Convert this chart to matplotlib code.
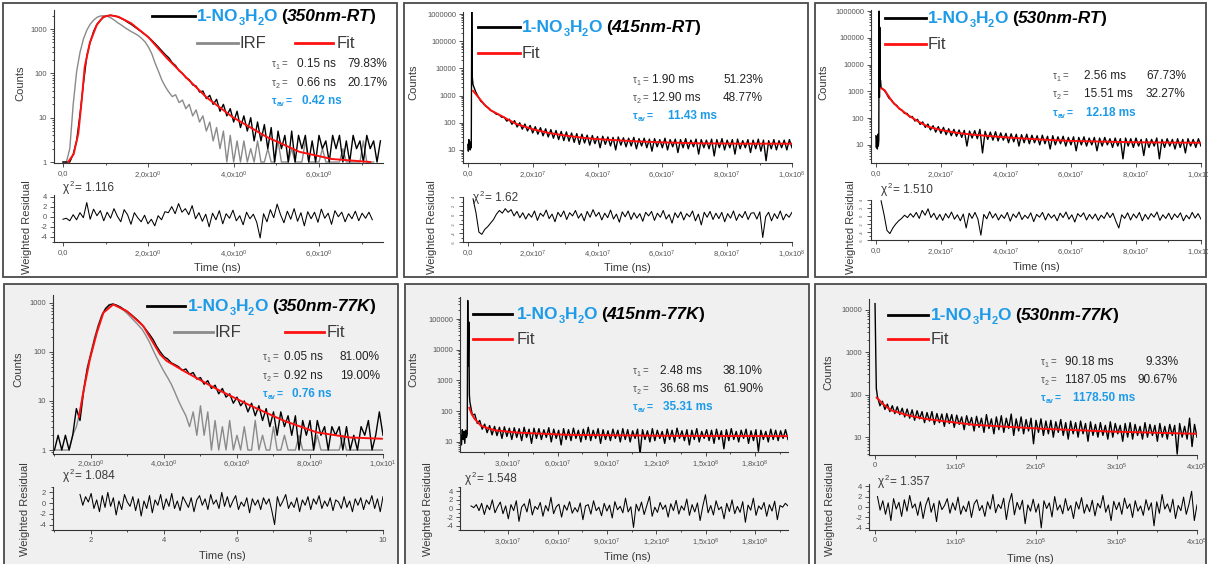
import numpy as np
import matplotlib.pyplot as plt
from matplotlib.lines import Line2D
from matplotlib.patches import Rectangle
from matplotlib.ticker import LogLocator, MultipleLocator, NullFormatter

plt.rcParams['font.family'] = ['Liberation Sans', 'DejaVu Sans']
plt.rcParams['mathtext.fontset'] = 'custom'
plt.rcParams['mathtext.rm'] = 'Liberation Sans'
plt.rcParams['mathtext.it'] = 'Liberation Sans:italic'
plt.rcParams['mathtext.bf'] = 'Liberation Sans:bold'

# ---------------- data ----------------
# panel 1: 350nm-RT (time in ns)
p1_t_range = (0.0, 7.44)
p1_counts = [1, 1, 1, 1.5, 3, 12, 60, 250, 520, 900,
             1300, 1600, 1880, 2000, 2050, 2000, 1900, 1750, 1600, 1420,
             1280, 1120, 990, 870, 760, 660, 560, 470, 390, 320,
             265, 225, 175, 150, 115, 100, 80, 72, 55, 52,
             38, 40, 27, 32, 20, 26, 14, 20, 11, 16,
             8, 14, 6, 11, 5, 10, 3, 8, 3, 7,
             2, 6, 1, 5, 2, 4, 1, 5, 1, 4,
             2, 4, 1, 3, 1, 4, 2, 3, 1, 4,
             2, 4, 1, 3, 1, 4, 2, 3, 1, 4,
             2, 3, 1, 3]
p1_irf_range = (0.0, 7.28)
p1_irf = [1, 1, 2, 20, 110, 300, 600, 950, 1300, 1600,
          1850, 1980, 2000, 1950, 1800, 1600, 1400, 1250, 1100, 980,
          880, 800, 720, 620, 520, 400, 280, 170, 110, 70,
          50, 38, 30, 33, 22, 25, 16, 20, 11, 15,
          8, 11, 5, 8, 3, 6, 2, 5, 1, 4,
          1, 3, 1, 3, 1, 2, 1, 3, 1, 1,
          2, 1, 1, 3, 1, 1, 1, 2, 1, 1,
          1, 3, 1, 1, 1, 1, 2, 1, 1, 1,
          1, 1, 2, 1, 1, 1, 1, 1, 3, 1,
          1, 1]
p1_fit_t = [0.12, 0.25, 0.36, 0.44, 0.51, 0.63, 0.79, 0.94, 1.10, 1.30,
            1.60, 2.00, 2.43, 2.90, 3.36, 3.97, 4.77, 5.54, 6.30, 7.20]
p1_fit = [1.0, 1.5, 4.4, 25, 141, 490, 1230, 1880, 2050, 1900,
          1350, 660, 224, 79, 29, 10.4, 3.7, 1.7, 1.17, 1.0]
p1_res_range = (0.0, 7.25)
p1_res = [-0.5, -0.3, -0.8, 0.4, -0.6, 0.8, -0.2, 2.8, -0.5, 1.5,
          0.2, 1.2, -0.8, 0.9, -0.3, 1.6, 0.1, -1.0, 1.4, 0.4,
          -1.5, 0.8, -0.2, -1.0, 0.3, -1.4, -0.5, -1.8, 0.2, -0.6,
          1.0, 0.8, 2.0, 0.6, 2.6, 0.9, 1.6, 0.4, 2.2, -0.4,
          0.8, -0.9, 0.5, -2.0, 0.7, -0.6, 1.2, -1.4, 0.6, -0.3,
          1.3, -0.8, 0.2, -1.6, 0.9, -0.4, 0.5, -1.1, -4.2, 0.6,
          -1.0, 1.4, -0.2, 2.5, 0.4, -1.2, 1.1, -0.5, 1.6, -0.9,
          0.8, -1.8, 1.0, -0.4, 0.9, -1.1, 1.5, -0.3, 0.7, -1.5,
          1.2, 0.0, 0.9, -1.0, 0.6, -0.4, 1.1, -0.8, 0.7, -0.3,
          0.9, -0.6]

# panel 2: 415nm-RT
p2_head_t = [0, 1.5e5, 3e5, 4.5e5, 6e5, 7.5e5, 9e5, 1.05e6, 1.2e6, 1.35e6]
p2_head = [16, 9, 24, 11, 20, 10, 18, 12, 1.2e6, 5000]
p2_t_range = (1.6e6, 1.0e8)
p2_counts = [2500, 1400, 900, 620, 520, 400, 350, 280, 250, 205,
             200, 160, 160, 115, 135, 88, 120, 70, 100, 58,
             90, 50, 80, 42, 72, 38, 66, 33, 60, 30,
             56, 27, 52, 24, 48, 22, 46, 21, 42, 19,
             40, 16, 38, 18, 35, 15, 34, 17, 31, 12,
             32, 16, 30, 14, 29, 10, 30, 15, 28, 13,
             27, 14, 29, 11, 26, 14, 27, 12, 25, 9,
             26, 13, 24, 12, 27, 10, 24, 13, 25, 8,
             24, 12, 26, 11, 23, 13, 25, 7, 24, 12,
             23, 11, 25, 6, 24, 12, 26, 10, 23, 12,
             24, 7, 25, 11, 22, 12, 24, 8, 23, 11,
             25, 9, 23, 4, 22, 11, 24, 10, 22, 12,
             23, 10, 24, 12]
p2_fit_t = [1.6e6, 2.7e6, 5e6, 7e6, 9.8e6, 1.3e7, 1.5e7, 2.0e7, 2.5e7,
            3.0e7, 3.55e7, 4.0e7, 5.1e7, 6.0e7, 7.1e7, 8.5e7, 1.0e8]
p2_fit = [1500, 1050, 480, 290, 194, 120, 90, 58, 42,
          34, 28, 25, 21, 19, 17.5, 17, 17]
p2_res_range = (1.6e6, 1.0e8)
p2_res = [3.6, 0.5, -3.8, -4.3, -3.2, -2.6, -1.8, -1.0, 0.2, 1.0,
          0.4, 1.4, 0.6, 1.2, -0.2, 0.8, -0.6, 0.5, -0.9, 0.3,
          -0.5, 0.9, -1.2, 0.4, -0.3, 1.1, -0.8, 0.2, -1.5, 0.6,
          -0.4, 0.9, -1.0, 0.5, -0.2, 1.0, -0.7, 0.3, -1.3, 0.8,
          -0.5, 1.2, -0.3, 0.6, -1.1, 0.4, -0.6, 1.1, -0.9, 0.2,
          -1.6, 0.7, -0.4, 0.9, -1.0, 0.5, -0.7, 0.3, -1.4, 0.6,
          -0.2, 0.8, -1.2, 0.4, -0.5, 1.0, -0.9, 0.1, -1.8, 0.5,
          -0.6, 0.7, -1.1, 0.3, -0.4, 0.9, -1.3, 0.2, -2.2, 0.6,
          -0.5, 0.8, -1.0, 0.4, -0.8, 0.6, -1.5, 0.3, -0.7, 0.9,
          -1.2, 0.2, -0.6, 0.8, -1.0, 0.4, 0.5, -0.9, 0.7, -5.0,
          -0.4, 0.6, -1.3, 0.3, -0.8, 0.9, -1.1, 0.2, -0.5, 0.6]

# panel 3: 530nm-RT
p3_head_t = [0, 1.5e5, 3e5, 4.5e5, 6e5, 7.5e5, 9e5, 1.0e6, 1.1e6, 1.2e6, 1.3e6, 1.45e6]
p3_head = [22, 8, 20, 7, 25, 9, 15, 1.0e6, 600, 2.5e5, 3000, 2500]
p3_t_range = (1.6e6, 1.0e8)
p3_counts = [1400, 1150, 850, 560, 480, 340, 300, 220, 200, 150,
             150, 110, 115, 78, 90, 58, 72, 45, 60, 36,
             52, 30, 48, 27, 45, 24, 40, 22, 38, 21,
             36, 19, 35, 9, 33, 18, 34, 17, 38, 5,
             32, 16, 30, 15, 31, 14, 28, 15, 27, 12,
             26, 13, 25, 9, 24, 12, 25, 11, 23, 12,
             22, 10, 23, 11, 21, 7, 22, 10, 20, 11,
             21, 9, 19, 10, 20, 6, 19, 10, 20, 9,
             18, 10, 19, 6, 18, 9, 19, 10, 17, 8,
             18, 9, 17, 3, 18, 9, 17, 8, 18, 9,
             16, 4, 17, 8, 16, 9, 18, 3, 16, 8,
             17, 9, 16, 7, 17, 8, 16, 5, 17, 9,
             16, 8, 17, 9]
p3_fit_t = [1.6e6, 2.7e6, 5e6, 7e6, 9.8e6, 1.3e7, 1.6e7, 2.0e7, 2.5e7,
            3.0e7, 4.0e7, 5.0e7, 6.0e7, 8.0e7, 1.0e8]
p3_fit = [1300, 1100, 420, 240, 131, 75, 48, 36, 28,
          24, 19, 16, 14, 12.5, 12]
p3_res_range = (1.6e6, 1.0e8)
p3_res = [3.8, 0.4, -3.6, -4.4, -3.0, -2.0, -1.2, -0.6, 0.2, -0.4,
          0.6, -0.3, 0.9, -0.6, 1.4, 0.2, 1.8, -0.4, 0.7, -0.9,
          0.4, -1.1, 0.6, -0.5, 1.0, -0.8, 0.3, -1.2, 0.5, -3.0,
          0.7, -0.6, 0.9, -0.8, -4.8, 0.4, -0.7, 1.1, -0.5, 0.6,
          -1.0, 0.3, -0.6, 0.9, -1.3, 0.5, -0.4, 1.0, -0.9, 0.2,
          -0.6, 0.8, -1.4, 0.4, -0.3, 0.9, -1.0, 0.6, -0.5, 0.3,
          -1.2, 0.7, -0.4, 1.0, -0.8, 0.3, -1.5, 0.6, -0.2, 0.8,
          -1.0, 0.4, -0.7, 0.5, -1.1, 0.2, -0.6, 0.9, -0.4, 0.7,
          -1.3, -3.0, 0.3, -0.6, 0.8, -1.0, 0.5, -0.5, 0.9, -1.2,
          0.4, -0.8, 0.6, -0.3, 1.0, -1.1, 0.3, -0.6, 0.7, -0.9,
          0.5, -0.4, 0.8, -1.2, 0.2, -0.7, 0.9, -0.5, 0.6, -0.8]

# panel 4: 350nm-77K (time in ns)
p4_t_range = (1.0, 10.0)
p4_counts = [1, 2, 1, 2, 1, 2, 7, 4, 16, 45,
             90, 180, 330, 550, 760, 900, 950, 900, 830, 740,
             660, 580, 500, 430, 360, 290, 230, 180, 130, 100,
             80, 72, 60, 55, 50, 42, 45, 35, 38, 28,
             30, 22, 26, 18, 21, 14, 18, 12, 14, 9,
             12, 8, 10, 6, 9, 5, 8, 4, 7, 3,
             6, 2, 6, 3, 5, 2, 5, 1, 4, 2,
             4, 1, 4, 2, 3, 1, 3, 2, 3, 1,
             3, 1, 2, 1, 3, 2, 4, 1, 2, 6,
             2]
p4_irf_range = (1.0, 10.0)
p4_irf = [1, 1, 1, 1, 1, 2, 3, 6, 18, 50,
          100, 200, 360, 580, 780, 930, 940, 880, 790, 700,
          600, 500, 420, 350, 290, 220, 160, 110, 77, 55,
          40, 30, 22, 15, 10, 7, 5, 3, 6, 2,
          8, 2, 6, 1, 4, 1, 3, 1, 4, 1,
          2, 1, 3, 1, 1, 4, 1, 2, 1, 1,
          3, 1, 1, 2, 1, 1, 1, 2, 1, 1,
          1, 1, 2, 1, 1, 1, 1, 1, 1, 2,
          1, 1, 1, 1, 1, 1, 1, 1, 1, 1,
          1]
p4_fit_t = [1.67, 1.79, 1.97, 2.16, 2.34, 2.61, 2.98, 3.43, 3.89, 4.07,
            4.62, 5.44, 6.36, 7.27, 8.18, 9.1, 9.97]
p4_fit = [4.7, 15, 71, 245, 630, 930, 680, 340, 90, 66,
          38, 17.6, 8.1, 4.0, 2.3, 1.8, 1.7]
p4_res_range = (1.7, 10.0)
p4_res = [1.6, -0.4, 1.2, 0.2, 1.8, -1.0, 0.6, -1.6, 1.4, -0.8,
          2.0, -0.6, 1.0, -2.2, 0.4, -1.2, 1.6, 0.2, -0.6, 1.2,
          -1.4, 0.8, -2.4, 0.4, -1.0, 1.4, -1.8, 0.6, -0.4, 1.6,
          -1.2, 0.8, -0.6, 1.8, -1.0, 0.4, -1.4, 1.2, 0.2, -0.8,
          1.0, -1.6, 0.6, 1.4, -0.4, 0.8, -1.2, 1.6, -0.2, 0.6,
          -1.0, 2.0, -0.6, 1.2, -0.8, 0.4, 1.4, -1.2, 0.2, -0.6,
          1.0, -1.8, 0.8, -0.4, 0.6, -1.2, 1.0, -0.2, 0.8, -1.4,
          -4.0, 1.2, -0.6, 0.4, 1.6, -1.0, 0.2, -0.8, 1.0, -1.6,
          0.6, -0.4, 1.2, -1.2, 0.8, -0.2, 1.4, -1.0, 0.4, -0.6,
          1.0, -1.4, 0.6, 0.2, -1.0, 1.2, -0.8, 0.4, -1.6, 0.8,
          -0.4, 1.0, -1.2, 0.6, -0.2, 1.4, -1.0, 0.8, -1.6, 1.2]

# panel 5: 415nm-77K
p5_head_t = [8e5, 1.5e6, 2.0e6, 2.5e6, 3.0e6, 3.5e6, 4.0e6, 4.5e6, 5.0e6, 5.3e6, 5.6e6, 6.0e6, 6.3e6]
p5_head = [20, 8, 25, 12, 22, 9, 24, 14, 18, 4e5, 3000, 8e4, 340]
p5_t_range = (6.6e6, 2.0e8)
p5_counts = [200, 75, 80, 40, 50, 26, 38, 20, 34, 17,
             32, 16, 30, 13, 31, 15, 28, 12, 29, 14,
             27, 11, 30, 14, 26, 9, 28, 13, 27, 12,
             25, 14, 29, 10, 26, 13, 24, 8, 27, 12,
             25, 11, 28, 13, 24, 10, 26, 12, 30, 11,
             24, 13, 27, 9, 25, 12, 23, 11, 26, 13,
             24, 10, 27, 12, 25, 10, 23, 13, 26, 4,
             25, 12, 23, 10, 27, 11, 24, 13, 22, 9,
             26, 12, 24, 10, 28, 13, 23, 11, 25, 8,
             24, 12, 27, 10, 22, 13, 25, 11, 24, 9,
             26, 12, 23, 6, 25, 11, 27, 12, 22, 10,
             24, 13, 26, 9, 23, 11, 25, 5, 24, 12,
             22, 10, 26, 12, 24, 11, 23, 13, 25, 12]
p5_fit_t = [6.3e6, 7.5e6, 9.4e6, 1.35e7, 2.16e7, 3.6e7, 6.66e7, 1.28e8, 2.0e8]
p5_fit = [129, 85, 57, 33, 24, 20, 17, 15.8, 15.4]
p5_res_range = (7.3e6, 2.0e8)
p5_res = [0.6, 0.2, 0.9, -0.5, 1.2, -1.4, 0.8, -0.3, 2.0, -1.0,
          0.4, 1.5, -1.2, 0.6, -2.4, 0.9, -0.5, 1.8, -3.0, 0.3,
          1.1, -0.8, 2.2, -1.5, 0.5, -0.2, 1.4, -1.8, 0.7, -0.6,
          2.6, -1.2, 0.4, 1.0, -2.0, 0.8, -0.4, 1.6, -1.1, 0.2,
          -0.8, 1.3, -2.6, 0.6, 0.9, -1.3, 1.8, -0.5, 0.3, -1.7,
          1.2, -0.6, 0.8, -2.2, 1.6, -0.3, 0.5, -1.0, 2.4, -0.8,
          0.4, -4.4, 1.0, -0.6, 1.5, -1.4, 0.7, 2.8, -1.8, 0.3,
          -0.9, 1.4, -0.2, 0.8, -2.0, 1.1, -0.5, 1.9, -1.3, 0.6,
          -0.4, 2.2, -1.6, 0.9, -0.8, 1.3, -2.8, 0.5, 3.2, -1.0,
          0.7, -1.5, 1.8, -0.3, 0.4, -2.4, 1.2, -0.7, 2.0, -1.2,
          0.5, -0.9, 1.6, -3.2, 0.8, -0.4, 2.4, -1.6, 0.6, -0.2,
          1.4, -1.8, 0.9, -0.6, 1.7, -2.6, 0.7, 0.3, 1.2, 0.6]

# panel 6: 530nm-77K
p6_head_t = [0, 500, 1000, 1600, 2300]
p6_head = [14000, 2500, 700, 140, 110]
p6_t_range = (3000, 4.0e5)
p6_counts = [90, 55, 70, 45, 60, 40, 55, 36, 52, 34,
             48, 30, 46, 28, 44, 25, 42, 27, 40, 22,
             38, 24, 40, 20, 36, 22, 35, 18, 36, 21,
             34, 17, 33, 20, 30, 15, 32, 19, 29, 14,
             31, 17, 28, 13, 34, 16, 27, 12, 30, 15,
             32, 13, 28, 16, 35, 11, 27, 14, 30, 12,
             26, 14, 28, 7, 25, 13, 27, 11, 24, 12,
             25, 10, 23, 13, 26, 11, 22, 9, 24, 12,
             22, 10, 24, 12, 21, 8, 23, 11, 20, 10,
             22, 11, 19, 9, 23, 10, 21, 12, 19, 8,
             21, 10, 22, 9, 20, 11, 18, 9, 22, 10,
             20, 11, 19, 8, 21, 10, 18, 9, 20, 11,
             19, 4, 21, 10, 18, 9, 28, 6, 20, 10]
p6_fit_t = [2000, 3700, 1.0e4, 2.0e4, 4.0e4, 6.2e4, 1.24e5, 2.07e5, 2.9e5, 4.0e5]
p6_fit = [85, 80, 60, 43, 33, 27, 19.5, 15.8, 13.6, 12]
p6_res_range = (3000, 4.0e5)
p6_res = [2.0, -0.6, 1.2, -1.4, 0.8, -2.6, 1.6, -0.4, 0.9, -1.8,
          1.4, -0.8, 2.2, -0.2, 0.6, -1.6, 1.0, -2.2, 0.4, 1.8,
          -1.0, 0.7, -2.8, 1.2, -0.5, 0.3, 1.6, -1.2, 0.8, -0.6,
          1.9, -1.4, 0.2, -0.9, 1.1, -2.0, 0.6, 1.4, -0.7, 0.3,
          -1.8, 1.0, -0.4, 2.4, -1.1, 0.5, -0.3, 1.7, -2.4, 0.8,
          2.6, -1.5, 0.9, -0.5, 1.3, -3.2, 0.4, -0.8, 1.5, -1.0,
          0.6, -4.0, 1.2, -0.3, 0.8, -1.9, 2.0, -0.6, 0.4, -1.3,
          1.6, -0.7, 0.3, -2.2, 1.0, -0.4, 1.8, -1.2, 0.5, -0.9,
          1.3, -1.7, 0.7, -0.2, 2.2, -1.0, 0.4, -2.6, 1.1, -0.5,
          0.9, -1.4, 1.7, -0.3, 0.6, -2.0, 1.2, -0.8, 0.2, -1.6,
          1.4, -0.6, 0.8, -3.6, 1.0, -1.2, 2.4, -0.4, 0.6, -1.0,
          1.5, -2.2, 0.3, -0.7, 1.9, -1.4, 0.5, 3.0, -2.6, 0.4]

# text content
labels = ['350nm-RT', '415nm-RT', '530nm-RT', '350nm-77K', '415nm-77K', '530nm-77K']
tau_vals = [('0.15 ns', '0.66 ns', '0.42 ns'), ('1.90 ms', '12.90 ms', '11.43 ms'),
            ('2.56 ms', '15.51 ms', '12.18 ms'), ('0.05 ns', '0.92 ns', '0.76 ns'),
            ('2.48 ms', '36.68 ms', '35.31 ms'), ('90.18 ms', '1187.05 ms', '1178.50 ms')]
tau_pcts = [('79.83%', '20.17%'), ('51.23%', '48.77%'), ('67.73%', '32.27%'),
            ('81.00%', '19.00%'), ('38.10%', '61.90%'), ('9.33%', '90.67%')]
chi2 = ['1.116', '1.62', '1.510', '1.084', '1.548', '1.357']

# ---------------- drawing ----------------
W, H = 1208, 564
fig = plt.figure(figsize=(W / 100, H / 100), dpi=100)
renderer = fig.canvas.get_renderer()
BLUE = '#1e9be8'
TXT = '#3a3a3a'


def fx(x):
    return x / W


def fy(y):
    return 1 - y / H


def rect(l, t, r, b):
    return [l / W, 1 - b / H, (r - l) / W, (b - t) / H]


def chain(x, y, parts):
    # place text pieces one after another (pixel coords, y = baseline from top)
    for s, kw in parts:
        kw = dict(kw)
        dy = kw.pop('dy', 0)
        gap = kw.pop('gap', 0)
        t = fig.text(fx(x), fy(y + dy), s, va='baseline', ha='left', **kw)
        x += t.get_window_extent(renderer).width + gap
    return x


def title(x, y, label):
    big = dict(fontsize=12.5, fontweight='bold', color=BLUE)
    sub = dict(fontsize=8, fontweight='bold', color=BLUE, dy=4)
    blk = dict(fontsize=12.5, fontweight='bold', color='black')
    chain(x, y, [('1-NO', big), ('3', sub), ('H', big), ('2', sub), ('O', dict(big, gap=4)),
                 ('(', blk), (label, dict(blk, fontstyle='italic')), (')', blk)])


def legline(x0, x1, y, color, lw=2.0):
    fig.add_artist(Line2D([fx(x0), fx(x1)], [fy(y), fy(y)], color=color, lw=lw))


def legtext(x, y, s):
    fig.text(fx(x), fy(y), s, fontsize=12, color=TXT, va='baseline')


def taus(i, xt, xv, xp, ys, xav):
    g = dict(fontsize=7, color='#555555')
    for k in range(2):
        chain(xt, ys[k], [('τ', g), (str(k + 1), dict(fontsize=5, color='#555555', dy=2, gap=1.5)), ('=', g)])
        fig.text(fx(xv), fy(ys[k]), tau_vals[i][k], fontsize=8.5, color='#222222', va='baseline')
        fig.text(fx(xp[k]), fy(ys[k]), tau_pcts[i][k], fontsize=8.5, color='#222222', va='baseline')
    b = dict(fontsize=7.5, color=BLUE, fontweight='bold')
    chain(xt, ys[2], [('τ', b), ('av', dict(fontsize=5, color=BLUE, fontweight='bold', dy=2, gap=1.5)), ('=', b)])
    fig.text(fx(xav), fy(ys[2]), tau_vals[i][2], fontsize=8.5, color=BLUE, fontweight='bold', va='baseline')


def chitext(i, x, y):
    g = dict(fontsize=8.5, color=TXT)
    chain(x, y, [('χ', g), ('2', dict(fontsize=5.5, color=TXT, dy=-5, gap=2)), ('= ' + chi2[i], g)])


def style(ax, xpad=2):
    ax.set_facecolor('none')
    for s in ['top', 'right']:
        ax.spines[s].set_visible(False)
    for s in ['left', 'bottom']:
        ax.spines[s].set_linewidth(0.8)
        ax.spines[s].set_color('#333333')
    ax.tick_params(which='both', direction='out', width=0.6, colors='#333333',
                   labelsize=5.5, labelcolor='#555555', pad=2)
    ax.tick_params(axis='x', pad=xpad)
    ax.tick_params(which='major', length=3)
    ax.tick_params(which='minor', length=1.5)


def decay_axes(box, xlim, ylim, xticks, xlabels, xminor, yticks, xpad=2):
    ax = fig.add_axes(rect(*box))
    style(ax, xpad)
    ax.set_yscale('log')
    ax.set_xlim(*xlim)
    ax.set_ylim(*ylim)
    ax.set_xticks(xticks)
    ax.set_xticklabels(xlabels)
    ax.xaxis.set_minor_locator(MultipleLocator(xminor))
    ax.set_yticks(yticks)
    ax.set_yticklabels([str(int(v)) for v in yticks])
    ax.yaxis.set_minor_locator(LogLocator(base=10, subs=np.arange(2, 10)))
    ax.yaxis.set_minor_formatter(NullFormatter())
    return ax


def resid_axes(box, xlim, ylim, xticks, xlabels, xminor, yticks, tiny=False):
    ax = fig.add_axes(rect(*box))
    style(ax)
    ax.set_xlim(*xlim)
    ax.set_ylim(*ylim)
    ax.set_xticks(xticks)
    ax.set_xticklabels(xlabels)
    ax.xaxis.set_minor_locator(MultipleLocator(xminor))
    ax.set_yticks(yticks)
    ax.yaxis.set_minor_locator(MultipleLocator(1))
    if tiny:
        ax.set_yticklabels([str(v) for v in yticks], fontsize=3, rotation=90, va='center')
    else:
        ax.set_yticklabels([str(v) for v in yticks])
    return ax


def series(rng, vals):
    return np.linspace(rng[0], rng[1], len(vals)), np.array(vals, dtype=float)


# panel frames
frames = [(3, 3, 397, 277, 'white'), (404, 3, 808, 277, 'white'), (815, 3, 1206, 277, 'white'),
          (4, 284, 398, 575, '#f0f0f0'), (405, 284, 809, 575, '#f0f0f0'), (815, 284, 1206, 575, '#f0f0f0')]
for l, t, r, b, c in frames:
    fig.add_artist(Rectangle((fx(l), fy(b)), (r - l) / W, (b - t) / H, transform=fig.transFigure,
                             facecolor=c, edgecolor='#4a4a4a', lw=1.3, zorder=-5))

LW_D, LW_F, LW_R = 1.0, 1.4, 0.75
GRAY, RED = '#8a8a8a', '#ff1010'

# ---- panel 1
ns_lab = ['0,0', r'2,0x10$^{0}$', r'4,0x10$^{0}$', r'6,0x10$^{0}$']
ax = decay_axes((54, 10, 383, 163), (-0.21, 7.5), (0.95, 2700), [0, 2, 4, 6], ns_lab, 1, [1, 10, 100, 1000])
ax.plot(*series(p1_irf_range, p1_irf), color=GRAY, lw=LW_D)
ax.plot(*series(p1_t_range, p1_counts), color='black', lw=LW_D)
ax.plot(p1_fit_t, p1_fit, color=RED, lw=LW_F)
ax = resid_axes((54, 195, 383, 242), (-0.21, 7.5), (-5, 4.3), [0, 2, 4, 6], ns_lab, 1, [-4, -2, 0, 2, 4])
ax.plot(*series(p1_res_range, p1_res), color='black', lw=LW_R)

# ---- panel 2
e7_lab = ['0,0', r'2,0x10$^{7}$', r'4,0x10$^{7}$', r'6,0x10$^{7}$', r'8,0x10$^{7}$', r'1,0x10$^{8}$']
e7_ticks = [0, 2e7, 4e7, 6e7, 8e7, 1e8]
ax = decay_axes((463, 12, 792, 163), (-1.5e6, 1.0e8), (3.3, 1.2e6), e7_ticks, e7_lab, 1e7,
                [10, 100, 1000, 10000, 100000, 1000000])
t, c = series(p2_t_range, p2_counts)
ax.plot(np.concatenate([p2_head_t, t]), np.concatenate([p2_head, c]), color='black', lw=LW_D)
ax.plot(p2_fit_t, p2_fit, color=RED, lw=LW_F)
ax = resid_axes((463, 197, 792, 242), (-1.5e6, 1.0e8), (-6, 4), e7_ticks, e7_lab, 1e7, [-6, -4, -2, 0, 2, 4], tiny=True)
ax.plot(*series(p2_res_range, p2_res), color='black', lw=LW_R)

# ---- panel 3
ax = decay_axes((871, 10, 1201, 163), (-1.5e6, 1.0e8), (2.1, 1.1e6), e7_ticks, e7_lab, 1e7,
                [10, 100, 1000, 10000, 100000, 1000000])
t, c = series(p3_t_range, p3_counts)
ax.plot(np.concatenate([p3_head_t, t]), np.concatenate([p3_head, c]), color='black', lw=LW_D)
ax.plot(p3_fit_t, p3_fit, color=RED, lw=LW_F)
ax = resid_axes((871, 200, 1201, 240), (-1.5e6, 1.0e8), (-6, 4), e7_ticks, e7_lab, 1e7, [-6, -4, -2, 0, 2, 4], tiny=True)
ax.plot(*series(p3_res_range, p3_res), color='black', lw=LW_R)

# ---- panel 4
k_lab = [r'2,0x10$^{0}$', r'4,0x10$^{0}$', r'6,0x10$^{0}$', r'8,0x10$^{0}$', r'1,0x10$^{1}$']
ax = decay_axes((53, 295, 383, 454), (0.96, 10.0), (0.83, 1450), [2, 4, 6, 8, 10], k_lab, 1, [1, 10, 100, 1000],
                xpad=0.5)
ax.plot(*series(p4_irf_range, p4_irf), color=GRAY, lw=LW_D)
ax.plot(*series(p4_t_range, p4_counts), color='black', lw=LW_D)
ax.plot(p4_fit_t, p4_fit, color=RED, lw=LW_F)
ax = resid_axes((53, 487, 383, 530), (0.96, 10.0), (-5, 3), [2, 4, 6, 8, 10], ['2', '4', '6', '8', '10'], 1, [-4, -2, 0, 2])
ax.plot(*series(p4_res_range, p4_res), color='black', lw=LW_R)

# ---- panel 5
m_ticks = [3e7, 6e7, 9e7, 1.2e8, 1.5e8, 1.8e8]
m_lab = [r'3,0x10$^{7}$', r'6,0x10$^{7}$', r'9,0x10$^{7}$', r'1,2x10$^{8}$', r'1,5x10$^{8}$', r'1,8x10$^{8}$']
ax = decay_axes((460, 297, 788, 452), (6e5, 2.0e8), (4.7, 5.2e5), m_ticks, m_lab, 1.5e7,
                [10, 100, 1000, 10000, 100000])
t, c = series(p5_t_range, p5_counts)
ax.plot(np.concatenate([p5_head_t, t]), np.concatenate([p5_head, c]), color='black', lw=LW_D)
ax.plot(p5_fit_t, p5_fit, color=RED, lw=LW_F)
ax = resid_axes((460, 487, 788, 530), (6e5, 2.0e8), (-5, 5), m_ticks, m_lab, 1.5e7, [-4, -2, 0, 2, 4])
ax.plot(*series(p5_res_range, p5_res), color='black', lw=LW_R)

# ---- panel 6
s_ticks = [0, 1e5, 2e5, 3e5, 4e5]
s_lab = ['0', r'1x10$^{5}$', r'2x10$^{5}$', r'3x10$^{5}$', r'4x10$^{5}$']
ax = decay_axes((869, 299, 1197, 455), (-7.5e3, 4.0e5), (3.8, 18000), s_ticks, s_lab, 5e4,
                [10, 100, 1000, 10000])
t, c = series(p6_t_range, p6_counts)
ax.plot(np.concatenate([p6_head_t, t]), np.concatenate([p6_head, c]), color='black', lw=LW_D)
ax.plot(p6_fit_t, p6_fit, color=RED, lw=LW_F)
ax = resid_axes((869, 484, 1197, 530), (-7.5e3, 4.0e5), (-4.4, 4.4), s_ticks, s_lab, 5e4, [-4, -2, 0, 2, 4])
ax.plot(*series(p6_res_range, p6_res), color='black', lw=LW_R)

# ---- legends / annotations
title(197, 21, labels[0])
legline(152, 195, 16, 'black')
legline(197, 238, 43, GRAY)
legtext(240, 48, 'IRF')
legline(295, 333, 43, RED)
legtext(337, 48, 'Fit')

title(522, 32, labels[1])
legline(478, 520, 27, 'black')
legline(478, 520, 53, RED)
legtext(522, 58, 'Fit')

title(928, 23, labels[2])
legline(885, 926, 18, 'black')
legline(885, 926, 44, RED)
legtext(928, 49, 'Fit')

title(188, 311, labels[3])
legline(147, 185, 306, 'black')
legline(174, 213, 332, GRAY)
legtext(215, 337, 'IRF')
legline(285, 324, 332, RED)
legtext(327, 337, 'Fit')

title(517, 319, labels[4])
legline(473, 512, 314, 'black')
legline(473, 512, 339, RED)
legtext(517, 344, 'Fit')

title(931, 320, labels[5])
legline(888, 928, 315, 'black')
legline(888, 928, 339, RED)
legtext(931, 344, 'Fit')

taus(0, 272, 297, (347, 347), (67, 86, 104), 302)
taus(1, 633, 652, (723, 723), (83, 101, 119), 668)
taus(2, 1053, 1084, (1146, 1146), (79, 97, 116), 1086)
taus(3, 263, 284, (340, 340), (360, 379, 397), 292)
taus(4, 633, 660, (723, 723), (374, 392, 410), 663)
taus(5, 1041, 1065, (1146, 1138), (365, 383, 401), 1073)

for i, (x, y) in enumerate([(63, 191), (473, 201), (881, 193), (63, 479), (465, 482), (878, 485)]):
    chitext(i, x, y)

ax_lab = dict(fontsize=8, color=TXT, ha='center', va='center')
for x, y in [(20, 83), (413, 82), (823, 82), (18, 369), (413, 369), (828, 372)]:
    fig.text(fx(x), fy(y), 'Counts', rotation=90, **ax_lab)
for x, y in [(27, 227), (432, 227), (851, 227), (25, 509), (428, 509), (830, 509)]:
    fig.text(fx(x), fy(y), 'Weighted Residual', rotation=90, **ax_lab)
for x, y in [(217, 268), (627, 268), (1036, 267), (222, 556), (627, 557), (1030, 559)]:
    fig.text(fx(x), fy(y), 'Time (ns)', **ax_lab)

fig.savefig('out.png', dpi=100)
